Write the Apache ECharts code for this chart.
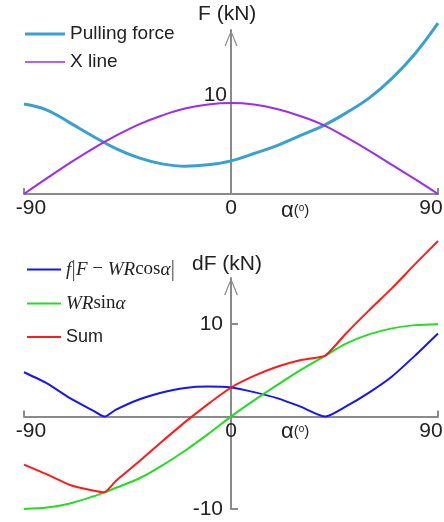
<!DOCTYPE html>
<html>
<head>
<meta charset="utf-8">
<script src="https://cdn.jsdelivr.net/npm/echarts@6/dist/echarts.min.js"></script>
<style>
  html, body { margin: 0; padding: 0; background: #fff; }
  #main { width: 444px; height: 522px; }
</style>
</head>
<body>
<div id="main"></div>
<script>
// top chart: angle (deg) vs force (kN)
var angles = [-90, -80, -70, -60, -50, -40, -30, -20, -10, 0, 10, 20, 30, 40, 50, 60, 70, 80, 90];
var pullingForce = [9.1, 8.5, 7.2, 5.85, 4.6, 3.65, 3.05, 2.8, 2.95, 3.35, 4.1, 4.9, 5.9, 6.9, 8.2, 9.7, 11.7, 14.2, 17.3];
var xLine = [0, 1.6, 3.15, 4.6, 5.9, 7.05, 7.95, 8.65, 9.05, 9.2, 9.05, 8.6, 7.9, 7.0, 5.75, 4.4, 2.95, 1.5, 0];

// bottom chart: kinks at -55 and 41
var angles2 = [-90, -80, -70, -60, -55, -50, -40, -30, -20, -10, 0, 10, 20, 30, 41, 50, 60, 70, 80, 90];
var frictionTerm = [4.8, 3.6, 2.0, 0.65, 0, 0.75, 1.85, 2.6, 3.1, 3.25, 3.15, 2.65, 2.0, 1.1, 0, 1.1, 2.6, 4.35, 6.6, 9.0];
var sinTerm = [-10, -9.85, -9.4, -8.65, -8.2, -7.7, -6.7, -5.3, -3.7, -1.9, 0, 1.75, 3.4, 5.0, 6.6, 7.9, 8.9, 9.55, 9.9, 10];
var sumTerm = [-5.2, -6.25, -7.4, -8.0, -8.2, -6.95, -4.85, -2.7, -0.6, 1.35, 3.15, 4.4, 5.4, 6.1, 6.6, 9.0, 11.5, 13.9, 16.5, 19.0];

var xTicks = [-90, 0, 90];

function pairs(xs, ys) {
  return xs.map(function (x, i) { return [x, ys[i]]; });
}

var FONT = "'Liberation Sans', Arial, sans-serif";
var SERIF = "'Liberation Serif', 'Times New Roman', serif";
var axisGray = "#8a8a8a";
var textCol = "#222";
var arrow = "path://M7,0 L14,17 L12.6,17 L7,2.8 L1.4,17 L0,17 Z";

function xAxisCfg(gridIndex, offset) {
  return {
    type: "value", gridIndex: gridIndex, min: -90, max: 90, interval: 90,
    position: "bottom", offset: offset,
    splitLine: { show: false },
    axisLine: { onZero: false, lineStyle: { color: axisGray, width: 2 } },
    axisTick: { show: true, inside: true, length: 6, customValues: [-90, 90], lineStyle: { color: axisGray, width: 2 } },
    axisLabel: {
      customValues: xTicks, margin: 4, color: textCol, fontFamily: FONT, fontSize: 21,
      formatter: function (v) {
        if (v === -90) return "{l|-90}";
        if (v === 90) return "{r|90}";
        return "{c|" + v + "}";
      },
      rich: {
        l: { fontFamily: FONT, fontSize: 21, color: textCol, padding: [0, 0, 0, 14] },
        r: { fontFamily: FONT, fontSize: 21, color: textCol, padding: [0, 14, 0, 0] },
        c: { fontFamily: FONT, fontSize: 21, color: textCol }
      }
    }
  };
}

var myChart = echarts.init(document.getElementById("main"));
var option = {
  animation: false,
  backgroundColor: "#fff",
  grid: [
    { left: 24, right: 6, top: 30, height: 164, containLabel: false, outerBoundsMode: "none" },
    { left: 24, right: 6, top: 278, height: 231, containLabel: false, outerBoundsMode: "none" }
  ],
  xAxis: [xAxisCfg(0, 0), xAxisCfg(1, -92.4)],
  yAxis: [
    {
      type: "value", gridIndex: 0, min: 0, max: 16.6, interval: 10,
      position: "left", offset: -207,
      splitLine: { show: false },
      axisLine: { onZero: false, symbol: ["none", arrow], symbolSize: [13, 16], symbolOffset: [0, -8], lineStyle: { color: axisGray, width: 2 } },
      axisTick: { show: false },
      axisLabel: { customValues: [10], margin: 4, color: textCol, fontFamily: FONT, fontSize: 21 }
    },
    {
      type: "value", gridIndex: 1, min: -10, max: 15, interval: 10,
      position: "left", offset: -207,
      splitLine: { show: false },
      axisLine: { onZero: false, symbol: ["none", arrow], symbolSize: [14, 17], symbolOffset: [0, -8.5], lineStyle: { color: axisGray, width: 2 } },
      axisTick: { show: true, inside: true, length: 7, customValues: [-10, 10], lineStyle: { color: axisGray, width: 2 } },
      axisLabel: { customValues: [-10, 10], margin: 8, color: textCol, fontFamily: FONT, fontSize: 21 }
    }
  ],
  legend: [
    {
      orient: "vertical", left: 20, top: 19, itemGap: 8,
      itemWidth: 40, itemHeight: 14, selectedMode: false,
      textStyle: { fontFamily: FONT, fontSize: 19, color: textCol, lineHeight: 20 },
      data: [
        { name: "Pulling force", icon: "path://M0,0H40V3H0Z" },
        { name: "X line", icon: "path://M0,0H40V1.6H0Z" }
      ]
    },
    {
      orient: "vertical", left: 22, top: 253, itemGap: 11.5,
      itemWidth: 34, itemHeight: 14, selectedMode: false,
      data: [
        { name: "friction", icon: "path://M0,0H34V2H0Z" },
        { name: "WRsin", icon: "path://M0,0H34V2H0Z" },
        { name: "Sum", icon: "path://M0,0H34V2H0Z" }
      ],
      formatter: function (n) {
        if (n === "friction") return "{it|f}{bar||}{it|F}{up| \u2212 }{it|WR}{up|cos}{it|\u03b1}{bar||}";
        if (n === "WRsin") return "{it|WR}{up|sin}{it|\u03b1}";
        return "{s|Sum}";
      },
      textStyle: {
        fontFamily: FONT, fontSize: 18, color: textCol, lineHeight: 22,
        rich: {
          it: { fontFamily: SERIF, fontStyle: "italic", fontSize: 19, color: textCol, lineHeight: 22 },
          up: { fontFamily: SERIF, fontSize: 19, color: textCol, lineHeight: 22 },
          bar: { fontFamily: SERIF, fontSize: 23, color: "#555", lineHeight: 22 },
          s: { fontFamily: FONT, fontSize: 18, color: textCol, lineHeight: 22 }
        }
      }
    }
  ],
  graphic: [
    { type: "text", left: 198, top: 4, style: { text: "F (kN)", font: "21px " + FONT, fill: textCol } },
    { type: "text", left: 192, top: 254, style: { text: "dF (kN)", font: "21px " + FONT, fill: textCol } },
    {
      type: "text", left: 281, top: 200,
      style: {
        text: "{a|\u03b1}{p|(}{o|o}{p|)}",
        rich: {
          a: { font: "22px " + FONT, fill: textCol },
          p: { font: "15px " + FONT, fill: textCol },
          o: { font: "10px " + FONT, fill: textCol, padding: [0, 0, 5, 0] }
        }
      }
    },
    {
      type: "text", left: 281, top: 421,
      style: {
        text: "{a|\u03b1}{p|(}{o|o}{p|)}",
        rich: {
          a: { font: "22px " + FONT, fill: textCol },
          p: { font: "15px " + FONT, fill: textCol },
          o: { font: "10px " + FONT, fill: textCol, padding: [0, 0, 5, 0] }
        }
      }
    }
  ],
  series: [
    {
      name: "Pulling force", type: "line", xAxisIndex: 0, yAxisIndex: 0,
      data: pairs(angles, pullingForce), smooth: 0.4, showSymbol: false, clip: false,
      itemStyle: { color: "#38a1d1" }, lineStyle: { color: "#38a1d1", width: 3 }
    },
    {
      name: "X line", type: "line", xAxisIndex: 0, yAxisIndex: 0,
      data: pairs(angles, xLine), smooth: 0.4, showSymbol: false, clip: false,
      itemStyle: { color: "#9a2cf5" }, lineStyle: { color: "#9a2cf5", width: 2 }
    },
    {
      name: "friction", type: "line", xAxisIndex: 1, yAxisIndex: 1,
      data: pairs(angles2, frictionTerm), smooth: 0.2, showSymbol: false, clip: false,
      itemStyle: { color: "#1414ff" }, lineStyle: { color: "#1414ff", width: 2 }
    },
    {
      name: "WRsin", type: "line", xAxisIndex: 1, yAxisIndex: 1,
      data: pairs(angles2, sinTerm), smooth: 0.3, showSymbol: false, clip: false,
      itemStyle: { color: "#22dd22" }, lineStyle: { color: "#22dd22", width: 2 }
    },
    {
      name: "Sum", type: "line", xAxisIndex: 1, yAxisIndex: 1,
      data: pairs(angles2, sumTerm), smooth: 0.15, showSymbol: false, clip: false,
      itemStyle: { color: "#ff1a1a" }, lineStyle: { color: "#ff1a1a", width: 2 }
    }
  ]
};
myChart.setOption(option);
</script>
</body>
</html>
